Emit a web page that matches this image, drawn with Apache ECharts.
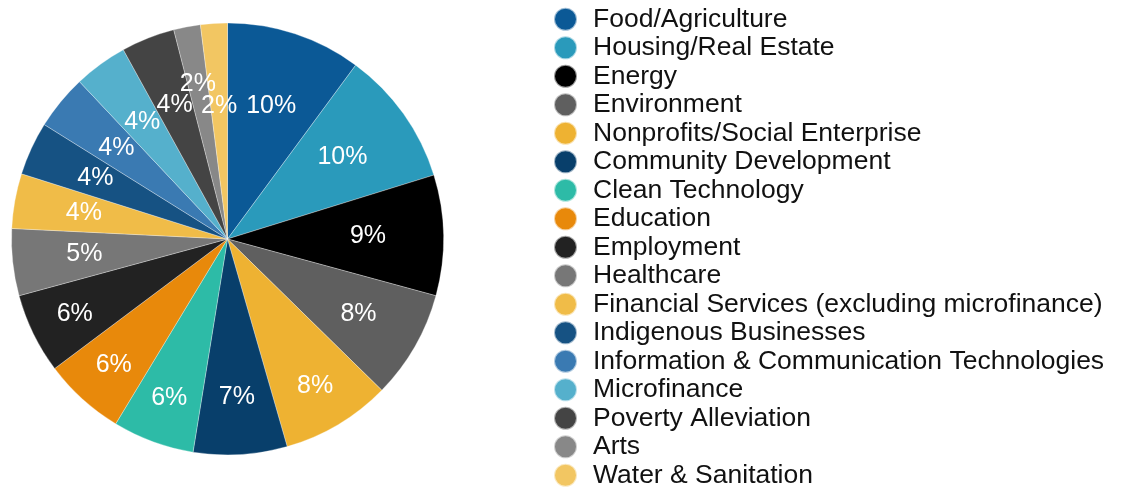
<!DOCTYPE html>
<html>
<head>
<meta charset="utf-8">
<script src="https://cdn.jsdelivr.net/npm/echarts@6/dist/echarts.min.js"></script>
<style>
  html, body { margin: 0; padding: 0; background: #fff; }
  #chart { width: 1122px; height: 488px; }
</style>
</head>
<body>
<div id="chart"></div>
<script>
var chart = echarts.init(document.getElementById('chart'));

// sectors, share of total (%)
var sectors = [
  'Food/Agriculture', 'Housing/Real Estate', 'Energy', 'Environment',
  'Nonprofits/Social Enterprise', 'Community Development', 'Clean Technology',
  'Education', 'Employment', 'Healthcare',
  'Financial Services (excluding microfinance)', 'Indigenous Businesses',
  'Information & Communication Technologies', 'Microfinance',
  'Poverty Alleviation', 'Arts', 'Water & Sanitation'
];
var shares = [10.1, 10.1, 9.0, 8.1, 8.2, 7.0, 6.1, 6.1, 6.0, 5.0, 4.1, 4.0, 4.1, 4.0, 4.0, 2.0, 2.0];
var colors = [
  '#0b5996', '#2a9abb', '#000000', '#5f5f5f', '#eeb232', '#083f6b', '#2dbba7',
  '#e8890b', '#222222', '#777777', '#f0bc48', '#165283', '#3a7ab2', '#55b0cc',
  '#444444', '#888888', '#f2c662'
];

var cx = 227.5, cy = 239, R = 216;
// how far from the centre each percentage label sits
var labelDist = [140, 141, 140.5, 151, 171, 158, 169, 169.5, 170, 144, 146, 145.6, 143.7, 145, 143.5, 158, 133.5];

var pieData = sectors.map(function (name, i) {
  return { name: name, value: shares[i], itemStyle: { color: colors[i] } };
});

var option = {
  animation: false,
  textStyle: { fontFamily: 'Liberation Sans, Arial, sans-serif' },
  legend: {
    orient: 'vertical',
    left: 553,
    top: 5,
    height: 560,
    padding: 0,
    icon: 'circle',
    itemWidth: 23,
    itemHeight: 23,
    itemGap: 0,
    selectedMode: false,
    data: sectors,
    textStyle: {
      fontSize: 26.5,
      lineHeight: 28.5,
      color: '#111',
      padding: [0, 0, 0, 11]
    }
  },
  series: [
    {
      type: 'pie',
      center: [cx, cy],
      radius: [0, R],
      startAngle: 90,
      clockwise: true,
      silent: true,
      itemStyle: { borderColor: 'rgba(255,255,255,0.6)', borderWidth: 0.5 },
      label: {
        show: true,
        position: 'inside',
        color: '#fff',
        fontSize: 25,
        formatter: function (p) { return Math.round(p.percent) + '%'; }
      },
      labelLine: { show: false },
      labelLayout: function (params) {
        var r = params.labelRect;
        var lx = r.x + r.width / 2, ly = r.y + r.height / 2;
        var vx = lx - cx, vy = ly - cy;
        var len = Math.sqrt(vx * vx + vy * vy) || 1;
        var d = labelDist[params.dataIndex];
        return { dx: cx + vx / len * d - lx, dy: cy + vy / len * d - ly };
      },
      data: pieData
    }
  ]
};

chart.setOption(option);

window.onresize = chart.resize;
</script>
</body>
</html>
